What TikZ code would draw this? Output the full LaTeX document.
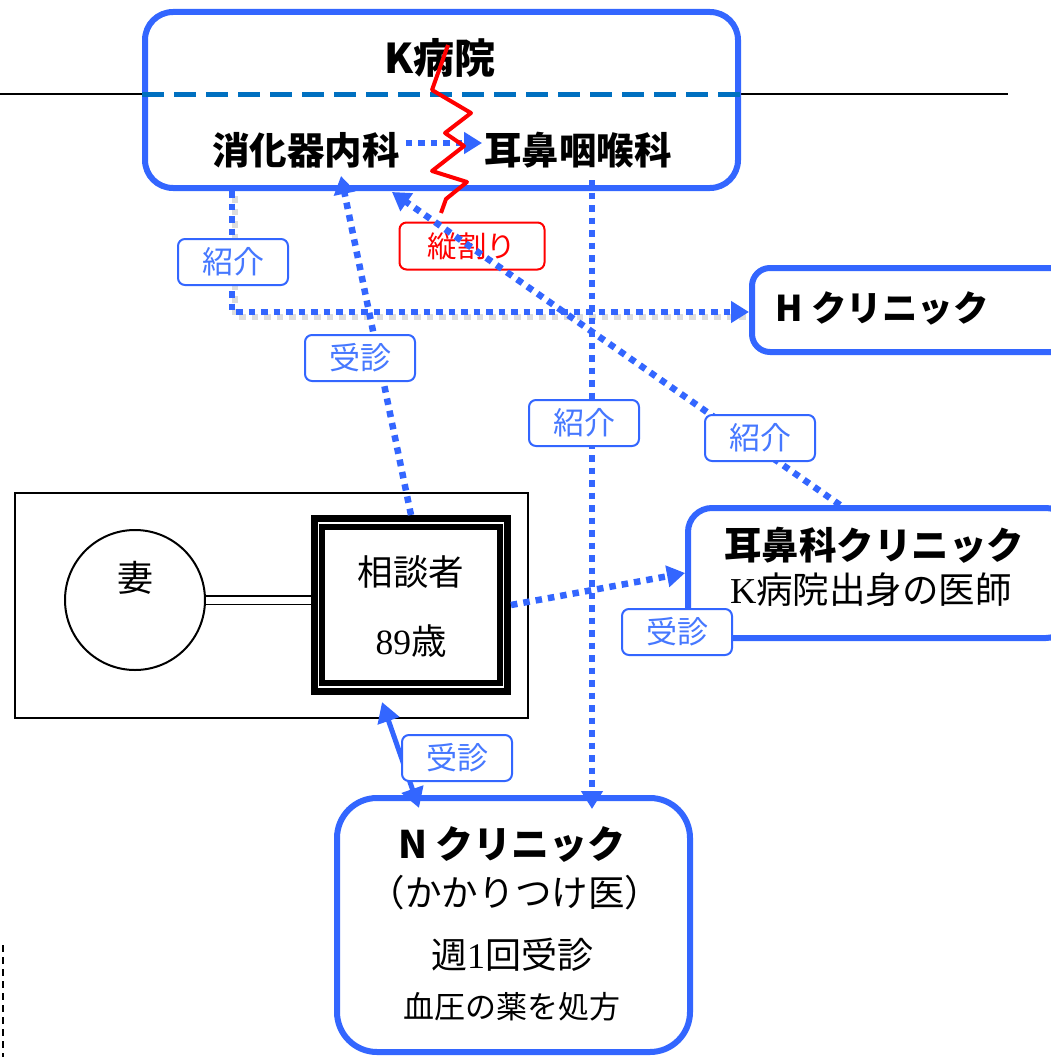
\documentclass[tikz,border=0pt]{standalone}
\usepackage{fontspec}
\setmainfont{Liberation Serif}
\newfontfamily\jp{Noto Sans CJK JP}
\usetikzlibrary{arrows.meta,calc}
\definecolor{bl}{RGB}{51,102,255}
\definecolor{lbt}{RGB}{70,120,255}
\definecolor{dbl}{RGB}{0,112,192}
\definecolor{rd}{RGB}{255,0,0}
\newcommand\fsz[1]{\fontsize{#1pt}{#1pt}\selectfont}
\tikzset{
  bluebox/.style={draw=bl, line width=6pt, rounded corners=28pt, fill=white, inner sep=0pt},
  lab/.style={draw=bl, line width=2pt, rounded corners=7pt, fill=white, text=lbt,
    minimum width=110pt, minimum height=46pt, inner sep=0pt, font=\jp\fsz{31}},
  dotl/.style={bl, line width=6.5pt, dash pattern=on 6.5pt off 6pt},
  tip/.style={-{Triangle[length=18pt,width=21pt]}},
  bold/.style={font=\jp\bfseries\fsz{37.5}, inner sep=0pt},
  plain/.style={font=\fsz{36}, inner sep=0pt},
}
\begin{document}
\begin{tikzpicture}[x=1pt,y=-1pt]
\useasboundingbox (0,0) rectangle (1051,1057);
% horizontal black line
\draw[line width=1.5pt] (0,94) -- (1008,94);
% K hospital
\node[bluebox, minimum width=593pt, minimum height=176pt] (K) at (441.5,100) {};
\draw[dbl, line width=5pt, dash pattern=on 22pt off 10pt] (K.west |- 0,94) -- (K.east |- 0,94);
\node[bold, font=\jp\bfseries\fsz{41}] (Kt) at (440,58) {K病院};
\node[bold] (D1) at (306,150) {消化器内科};
\node[bold] (D2) at (578,150) {耳鼻咽喉科};
\draw[dotl, tip] (D1.east) ++(6,-7) coordinate (d1e) -- ($(D2.west |- d1e)+(-2,0)$);
% H clinic
\node[bluebox, rounded corners=18pt, minimum width=320pt, minimum height=84pt] (H) at (912,310) {};
\node[bold, font=\jp\bfseries\fsz{35.5}] (Ht) at (882,308) {H クリニック};
% ENT clinic
\node[bluebox, rounded corners=24pt, minimum width=382pt, minimum height=130pt] (E) at (879,573) {};
\node[bold] (Et) at (874,545) {耳鼻科クリニック};
\node[plain, font=\fsz{36.5}] (Es) at (871,590) {K{\jp 病院出身の医師}};
% N clinic
\node[bluebox, rounded corners=40pt, minimum width=353pt, minimum height=254pt] (N) at (513.5,925) {};
\node[bold, font=\jp\bfseries\fsz{38}] (Nt) at (512,845) {N クリニック};
\node[plain, font=\jp\fsz{36.5}] (Ns) at (515,893) {（かかりつけ医）};
\node[plain, font=\fsz{36}] (Nw) at (512,955) {{\jp 週}1{\jp 回受診}};
\node[plain, font=\jp\fsz{31}] (Nb) at (512,1007) {血圧の薬を処方};
% family
\node[draw, line width=1.5pt, minimum width=513pt, minimum height=225pt, inner sep=0pt] (F) at (271.5,605.5) {};
\node[draw, circle, line width=2pt, minimum size=140pt, inner sep=0pt] (W) at (135,600) {};
\node[plain, font=\jp\fsz{36}] (Wt) at (135,578) {妻};
\node[draw, line width=7pt, minimum width=193pt, minimum height=173pt, inner sep=0pt] (S) at (411,605) {};
\draw[line width=6pt] ($(S.north west)+(11,12)$) rectangle ($(S.south east)+(-11,-12)$);
\node[plain, font=\jp\fsz{35.5}] (St) at (411,572) {相談者};
\node[plain, font=\fsz{35.5}] (Sa) at (411,641) {89{\jp 歳}};
\draw[double distance=7pt, line width=1.5pt] (W.east) -- (W.east -| S.west);
% vertical split label
\node[draw=rd, line width=2pt, rounded corners=7pt, fill=white, text=rd, minimum width=145pt,
  minimum height=47pt, inner sep=0pt, font=\jp\fsz{29.5}] (R) at (472,246) {縦割り};
% connectors
\draw[gray!45, opacity=.6, line width=6.5pt, dash pattern=on 6.5pt off 6pt]
  (235,196) -- (235,317) -- (748,317);
\draw[dotl, tip] (232,0 |- K.south) -- (232,312) -- (H.west |- 0,312);
\draw[dotl, tip] (S.north) -- (341,176);
\draw[dotl, tip] (840,0 |- E.north) -- (392,192);
\draw[dotl, tip] (592,180) -- ($(592,0 |- N.north)+(0,14)$);
\draw[dotl, tip] (S.east) -- (E.west |- 0,573);
\draw[bl, line width=5pt, {Triangle[length=20pt,width=22pt]}-{Triangle[length=20pt,width=22pt]}]
  (382,702) -- (419,808);
% red zigzag
\draw[rd, line width=4pt, line join=round]
  (448,45) -- (432,90) -- (471,113) -- (445,133) -- (464,146) -- (432,171) -- (467,182) -- (446,199) -- (441,213);
% labels
\node[lab] (L1) at (233,262) {紹介};
\node[lab] (L2) at (360,358) {受診};
\node[lab] (L3) at (584,423) {紹介};
\node[lab] (L4) at (760,438) {紹介};
\node[lab] (L5) at (677,632) {受診};
\node[lab] (L6) at (457,758) {受診};
% left dashed line
\draw[line width=2.5pt, dash pattern=on 7pt off 5pt] (3,945) -- (3,1057);
\end{tikzpicture}
\end{document}
